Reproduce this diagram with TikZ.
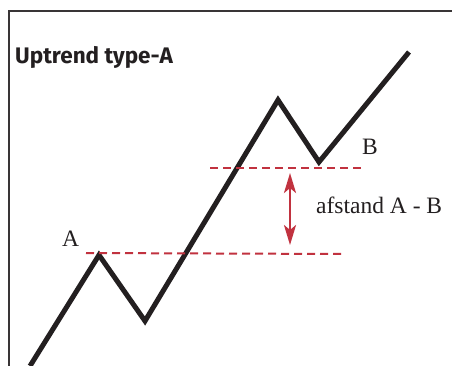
\documentclass[tikz,border=0pt]{standalone}
\usepackage{fontspec}
\setmainfont{Liberation Serif}
\setsansfont{Fira Sans}
\usetikzlibrary{arrows.meta}
\definecolor{trendred}{HTML}{C1323F}
\definecolor{ink}{HTML}{231F20}
\tikzset{
  frame/.style={draw=ink!90, line width=1.8pt},
  trend/.style={draw=ink, line width=5pt, miter limit=10},
  level/.style={draw=trendred, line width=2pt, dash pattern=on 8pt off 5pt},
  gap/.style={draw=trendred, line width=2.5pt, {Stealth[length=20pt,width=12pt,inset=5pt]}-{Stealth[length=20pt,width=12pt,inset=5pt]}},
  lbl/.style={font=\fontsize{23.5}{25}\selectfont, text=ink, inner sep=0pt},
}
\begin{document}
\begin{tikzpicture}[x=1pt,y=-1pt]
\useasboundingbox (0,0) rectangle (452,365);
\fill[white] (0,0) rectangle (452,365);
\draw[frame] (9,366) -- (9,11) -- (453,11);
\node[anchor=base west, inner sep=0pt, font=\sffamily\bfseries\fontsize{22.5}{24}\selectfont, text=ink] (title) at (15,63) {Uptrend type-A};
% zigzag
\coordinate (s) at (30,366);
\coordinate (pa) at (99,255);
\coordinate (t1) at (145,321);
\coordinate (p2) at (278,100);
\coordinate (pb) at (319,162);
\coordinate (e) at (409,52);
\draw[trend] (s) -- (pa) -- (t1) -- (p2) -- (pb) -- (e);
% levels
\coordinate (la1) at (86,253);
\coordinate (la2) at (344,254);
\coordinate (lb1) at (210,168);
\coordinate (lb2) at (363,168);
\draw[level] (la1) -- (la2);
\draw[level] (lb1) -- (lb2);
\coordinate (g1) at (290,173);
\coordinate (g2) at (290,245);
\draw[gap] (g1) -- (g2);
\node[lbl, anchor=base west] (dist) at (316,213) {afstand A - B};
\node[lbl, anchor=base west] (la) at (62,246) {A};
\node[lbl, anchor=base west] (lb) at (362,154) {B};
\end{tikzpicture}
\end{document}
